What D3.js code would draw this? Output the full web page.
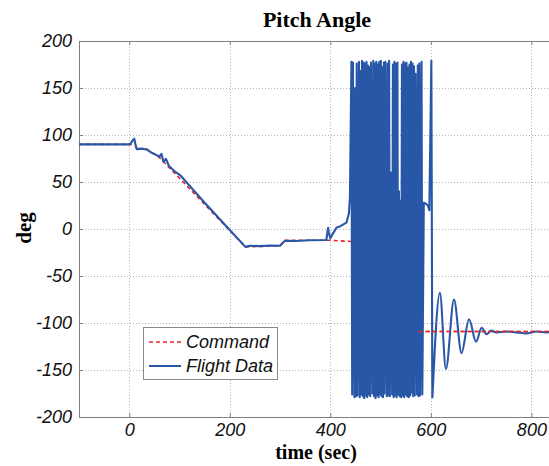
<!DOCTYPE html>
<html><head><meta charset="utf-8">
<script src="https://cdn.jsdelivr.net/npm/d3@7"></script>
<style>html,body{margin:0;padding:0;background:#fff;overflow:hidden}svg{display:block}</style>
</head><body>
<script>
// ---- data ----
const xTicks = [0, 200, 400, 600, 800];
const yTicks = [-200, -150, -100, -50, 0, 50, 100, 150, 200];
const seriesNames = ["Command", "Flight Data"];
// [time (sec), pitch (deg)]
const commandData = [
  [-100, 90], [12, 90], [16, 85], [35, 85], [60, 76], [100, 54], [231, -19], [300, -18],
  [310, -12], [400, -12], [450, -13.5], [520, -19], [574, -21], [575, -109], [845, -109]
];
const flightAscent = [
  [-100, 90], [0, 90], [2, 90.5], [8, 95], [10, 96], [13, 88], [15, 85], [25, 85.5], [35, 84.5],
  [45, 81], [54, 78.7], [60, 77], [64, 80], [68, 71.6], [73, 74.5], [79, 67], [85, 64], [91, 61],
  [101, 57.4], [150, 28], [200, -1], [231, -19], [240, -17.8], [260, -18.2], [280, -17.5],
  [300, -17.8], [305, -15], [310, -12.5], [330, -12.8], [360, -12], [392, -11.7], [395.6, 1.4],
  [397, -4], [400, -9.9], [404, -6], [412, 1.4], [420, 3], [432, 6.7], [437, 16.7], [439, 34]
];
const flightTumble = [
  [442, 178], [443.5, -176], [445, 177], [448, -179], [449.5, 150], [451, -178], [452.5, 176],
  [454, -177], [457, 178], [458.5, -179], [460, 168], [461.5, -176], [463, 179], [464.5, -178],
  [466, 177], [467.5, -180], [469, 176], [470.5, -177], [472, 178], [473.5, -179], [475, 174],
  [476.5, -176], [478, 172], [479.5, -178], [481, 177], [484, -175], [485.5, 179], [487, -178],
  [488.5, 176], [490, -180], [491.5, 178], [493, -177], [494.5, 175], [496, -179], [497.5, 178],
  [499, -176], [500.5, 179], [502, -178], [503.5, 172], [505, -179], [506.5, 177], [508, -175],
  [509.5, 178], [512.5, -178], [514, 176], [515.5, -177], [517, 179], [518.5, -178], [520, 60],
  [523, -176], [524.5, 175], [526, -179], [527.5, 178], [529, -177], [530.5, 176], [532, -179],
  [533.5, 177], [535, -176], [536.5, 40], [538, -178], [539.5, 30], [541, -179], [542.5, 175],
  [544, -177], [545.5, 178], [547, -179], [548.5, 176], [550, -176], [551.5, 177], [553, -178],
  [554.5, 172], [556, -179], [557.5, 175], [559, -177], [560.5, 178], [562, -174], [563.5, 176],
  [565, -178], [566.5, 173], [568, -177], [569.5, 165], [572.5, -176], [574, 174], [575.5, -178],
  [577, 176], [578.5, -177], [581.5, 178], [583, -176], [586, 28], [590, 27], [594, 25],
  [597, 20], [601, 179], [603, -180]
];
const flightRecovery = [
  [603, -180], [618, -68], [630, -149], [646, -75], [661, -132], [676, -96], [690, -120],
  [701, -105], [711, -112], [720, -108], [730, -110], [750, -109], [770, -110], [790, -111],
  [810, -109], [830, -110], [845, -109]
];

// ---- layout ----
const W = 549, H = 466;
const L = 79, R = 554, T = 41, B = 417;
const svg = d3.select("body").append("svg").attr("width", W).attr("height", H);
const x = d3.scaleLinear().domain([-100, 845]).range([L, R]);
const y = d3.scaleLinear().domain([-200, 200]).range([B, T]);

svg.append("defs").append("clipPath").attr("id", "clip")
  .append("rect").attr("x", L).attr("y", T).attr("width", R - L).attr("height", B - T);

// grid
const grid = svg.append("g").attr("stroke", "#b4b4b4").attr("stroke-width", 1).attr("stroke-dasharray", "1,2");
grid.selectAll(".gx").data(xTicks).join("line")
  .attr("x1", d => Math.round(x(d)) + 0.5).attr("x2", d => Math.round(x(d)) + 0.5)
  .attr("y1", T).attr("y2", B);
grid.selectAll(".gy").data(yTicks.filter(d => d > -200 && d < 200)).join("line")
  .attr("y1", d => Math.round(y(d)) + 0.5).attr("y2", d => Math.round(y(d)) + 0.5)
  .attr("x1", L).attr("x2", R);

// axes
const axColor = "#7f7f7f";
const fontTick = "italic 18px 'Liberation Sans', Arial, sans-serif";
const fmt = d => String(d);
const gB = svg.append("g").attr("transform", `translate(0,${B})`)
  .call(d3.axisBottom(x).tickValues(xTicks).tickFormat(fmt).tickSize(-4).tickPadding(6));
const gTop = svg.append("g").attr("transform", `translate(0,${T})`)
  .call(d3.axisTop(x).tickValues(xTicks).tickSize(-4).tickFormat(""));
const gL = svg.append("g").attr("transform", `translate(${L},0)`)
  .call(d3.axisLeft(y).tickValues(yTicks).tickFormat(fmt).tickSize(-4).tickPadding(7));
[gB, gTop, gL].forEach(g => {
  g.select(".domain").attr("stroke", axColor);
  g.selectAll(".tick line").attr("stroke", axColor);
  g.selectAll("text").style("font", fontTick).attr("fill", "#111");
});

// series
const plot = svg.append("g").attr("clip-path", "url(#clip)");
const blue = "#2857a7", red = "#e8262a";
const lin = d3.line().x(d => x(d[0])).y(d => y(d[1]));
const smooth = d3.line().x(d => x(d[0])).y(d => y(d[1])).curve(d3.curveMonotoneX);
plot.append("path").datum(commandData).attr("d", lin)
  .attr("fill", "none").attr("stroke", red).attr("stroke-width", 1.6).attr("stroke-dasharray", "4,3");
const flightPath = lin(flightAscent.concat(flightTumble)) + smooth(flightRecovery);
plot.append("path").attr("d", flightPath).attr("fill", "none").attr("stroke", blue)
  .attr("stroke-width", 2.1).attr("stroke-linejoin", "round");
plot.append("path").datum(commandData.filter(d => d[0] >= 575)).attr("d", lin)
  .attr("fill", "none").attr("stroke", red).attr("stroke-width", 1.6).attr("stroke-dasharray", "4,3");

// legend
const lg = svg.append("g");
lg.append("rect").attr("x", 143.5).attr("y", 327.5).attr("width", 134).attr("height", 52)
  .attr("fill", "#fff").attr("stroke", "#8a8a8a");
const legendY = [342, 366];
const legendStyle = [{c: red, dash: "4,3", w: 1.6}, {c: blue, dash: null, w: 2}];
seriesNames.forEach((n, i) => {
  lg.append("line").attr("x1", 149).attr("x2", 181).attr("y1", legendY[i]).attr("y2", legendY[i])
    .attr("stroke", legendStyle[i].c).attr("stroke-width", legendStyle[i].w)
    .attr("stroke-dasharray", legendStyle[i].dash);
  lg.append("text").attr("x", 186).attr("y", legendY[i]).attr("dy", "0.36em")
    .style("font", fontTick).attr("fill", "#111").text(n);
});

// titles
const serif = "'Liberation Serif', 'Times New Roman', serif";
svg.append("text").attr("x", 317).attr("y", 27).attr("text-anchor", "middle")
  .style("font", `bold 22px ${serif}`).text("Pitch Angle");
svg.append("text").attr("x", 316).attr("y", 459).attr("text-anchor", "middle")
  .style("font", `bold 20px ${serif}`).text("time (sec)");
svg.append("text").attr("transform", "translate(31,228) rotate(-90)").attr("text-anchor", "middle")
  .style("font", `bold 21px ${serif}`).text("deg");
</script>
</body></html>
